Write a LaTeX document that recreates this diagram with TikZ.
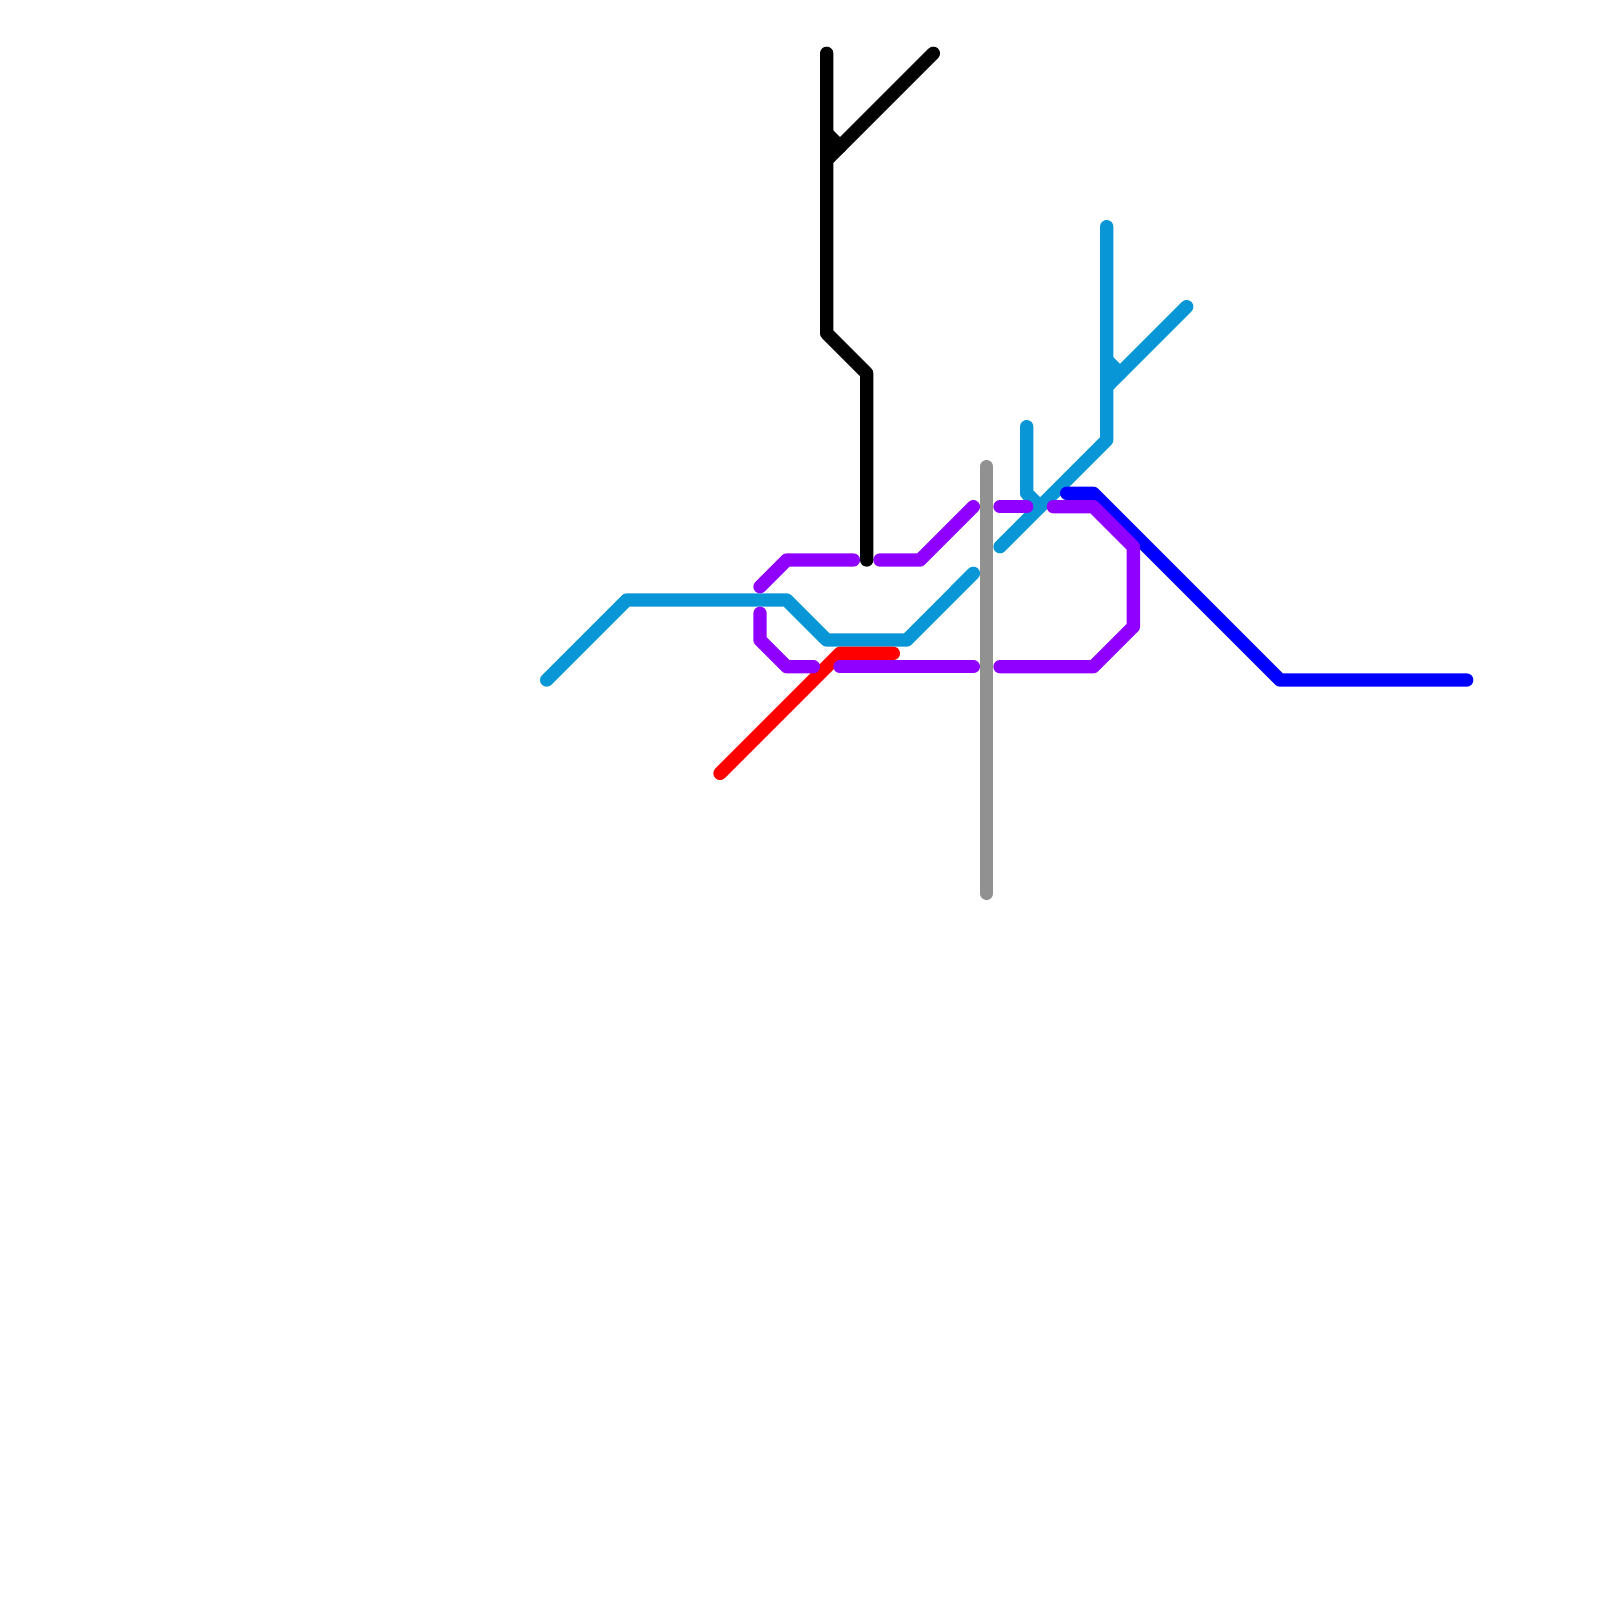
\documentclass[tikz,border=0pt]{standalone}
\definecolor{cyanl}{HTML}{0896D7}
\definecolor{purpl}{HTML}{8F00FF}
\definecolor{greyl}{HTML}{919191}
\tikzset{
  metro/.style={line width=6.67pt,line cap=round,line join=round},
  blackline/.style={metro,draw=black},
  cyanline/.style={metro,draw=cyanl},
  purpleline/.style={metro,draw=purpl},
  redline/.style={metro,draw=red},
  greyline/.style={metro,draw=greyl},
  blueline/.style={metro,draw=blue},
}
\begin{document}
\begin{tikzpicture}[x=0.5pt,y=-0.5pt]
\useasboundingbox (0,0) rectangle (1600,1600);
\fill[white] (0,0) rectangle (1600,1600);
\draw[cyanline] (546.67,680) -- (626.67,600) -- (786.67,600) -- (826.67,640) -- (906.67,640) -- (973.33,573.33);
\draw[redline] (720,773.33) -- (840,653.33) -- (893.33,653.33);
\draw[purpleline] (760,586.67) -- (786.67,560) -- (853.33,560);
\draw[purpleline] (880,560) -- (920,560) -- (973.33,506.67);
\draw[purpleline] (760,613.33) -- (760,640) -- (786.67,666.67) -- (813.33,666.67);
\draw[purpleline] (840,666.67) -- (973.33,666.67);
\draw[blackline] (826.67,53.33) -- (826.67,333.33) -- (866.67,373.33) -- (866.67,560);
\draw[blackline] (933.33,53.33) -- (826.67,160);
\draw[blackline] (826.67,133.33) -- (840,146.67);
\draw[greyline] (986.67,466.67) -- (986.67,893.33);
\draw[cyanline] (1106.67,226.67) -- (1106.67,440) -- (1000,546.67);
\draw[cyanline] (1186.67,306.67) -- (1106.67,386.67);
\draw[cyanline] (1106.67,360) -- (1120,373.33);
\draw[cyanline] (1026.67,426.67) -- (1026.67,493.33) -- (1040,506.67);
\draw[blueline] (1066.67,493.33) -- (1093.33,493.33) -- (1280,680) -- (1466.67,680);
\draw[purpleline] (1000,506.67) -- (1026.67,506.67);
\draw[purpleline] (1053.33,506.67) -- (1093.33,506.67) -- (1133.33,546.67) -- (1133.33,626.67) -- (1093.33,666.67) -- (1000,666.67);
\end{tikzpicture}
\end{document}
